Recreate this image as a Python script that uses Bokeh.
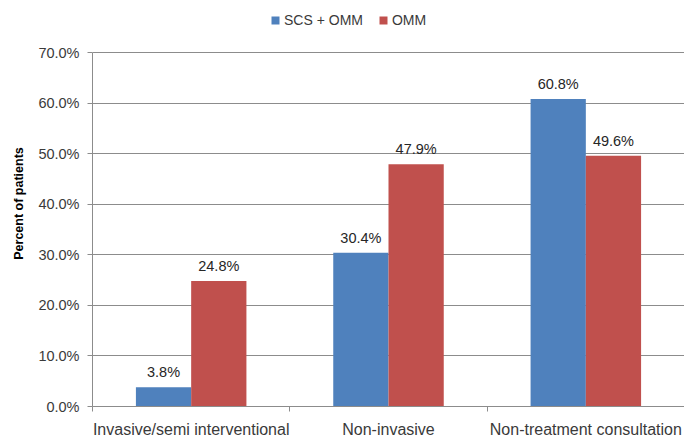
import numpy as np
from bokeh.plotting import figure
from bokeh.models import (ColumnDataSource, Range1d, FixedTicker, NumeralTickFormatter,
                          Legend, LegendItem)
from bokeh.embed import file_html
from bokeh.resources import INLINE
from bokeh.core.properties import value

# ---- data ----
categories = ["Invasive/semi interventional", "Non-invasive", "Non-treatment consultation"]
series_names = ["SCS + OMM", "OMM"]
scs_omm = [0.038, 0.304, 0.608]
omm = [0.248, 0.479, 0.496]
y_ticks = [0.0, 0.1, 0.2, 0.3, 0.4, 0.5, 0.6, 0.7]
y_max = 0.7

BLUE = "#4F81BD"
RED = "#C0504D"
FONT = "Liberation Sans"
TEXT = "#3a3a3a"
GRID = "#8c8c8c"

# layout: frame spans the whole top so the legend can sit inside it
FRAME_H = 406          # frame height in px (top of figure to x axis)
AXIS_H = 354           # px used by 0 .. y_max
idx = np.arange(len(categories))
bar_w = 0.28
src = ColumnDataSource(dict(
    x1=idx + 0.5 - bar_w / 2, x2=idx + 0.5 + bar_w / 2,
    v1=scs_omm, v2=omm,
    t1=[f"{v*100:.1f}%" for v in scs_omm], t2=[f"{v*100:.1f}%" for v in omm],
))

p = figure(width=684, height=440, output_backend="svg", toolbar_location=None,
           x_range=Range1d(0, len(categories)),
           y_range=Range1d(0, y_max * FRAME_H / AXIS_H),
           min_border_left=92, min_border_right=0, min_border_top=0, min_border_bottom=34)
p.outline_line_color = None
p.background_fill_color = "white"
p.border_fill_color = "white"

r1 = p.vbar(x="x1", top="v1", width=bar_w, source=src, fill_color=BLUE, line_color=None)
r2 = p.vbar(x="x2", top="v2", width=bar_w, source=src, fill_color=RED, line_color=None)

for xc, yc, tc in (("x1", "v1", "t1"), ("x2", "v2", "t2")):
    p.text(x=xc, y=yc, text=tc, source=src, text_align="center", text_baseline="bottom",
           y_offset=-7, text_font=value(FONT), text_font_size="14.5px", text_color="#262626")

# x axis
xa = p.xaxis[0]
xa.ticker = FixedTicker(ticks=list(idx + 0.5), minor_ticks=list(range(len(categories) + 1)))
xa.major_label_overrides = {float(i + 0.5): c for i, c in enumerate(categories)}
xa.major_tick_out = 0
xa.major_tick_in = 0
xa.minor_tick_out = 5
xa.minor_tick_in = 0
xa.minor_tick_line_color = GRID
xa.axis_line_color = GRID
xa.major_label_standoff = 9
xa.major_label_text_font = FONT
xa.major_label_text_font_size = "16px"
xa.major_label_text_color = TEXT

# y axis
ya = p.yaxis[0]
ya.ticker = FixedTicker(ticks=y_ticks)
ya.formatter = NumeralTickFormatter(format="0.0%")
ya.bounds = (0, y_max)
ya.major_tick_out = 5
ya.major_tick_in = 0
ya.minor_tick_out = 0
ya.minor_tick_in = 0
ya.major_tick_line_color = GRID
ya.axis_line_color = GRID
ya.major_label_standoff = 8
ya.major_label_text_font = FONT
ya.major_label_text_font_size = "14.5px"
ya.major_label_text_color = TEXT
ya.axis_label = "Percent of patients"
ya.axis_label_text_font = FONT
ya.axis_label_text_font_style = "bold"
ya.axis_label_text_font_size = "12.5px"
ya.axis_label_text_color = "#000000"
ya.axis_label_standoff = 9

p.xgrid.visible = False
p.ygrid.ticker = FixedTicker(ticks=y_ticks)
p.ygrid.grid_line_color = GRID

legend = Legend(items=[LegendItem(label=series_names[0], renderers=[r1]),
                       LegendItem(label=series_names[1], renderers=[r2])],
                orientation="horizontal", location=(178, 378), padding=0, margin=0,
                border_line_color=None, background_fill_alpha=0,
                glyph_width=10, glyph_height=10, label_standoff=4, spacing=15,
                label_text_font=FONT, label_text_font_size="14px", label_text_color=TEXT)
p.add_layout(legend)

open("out.html", "w").write(file_html(p, INLINE))
